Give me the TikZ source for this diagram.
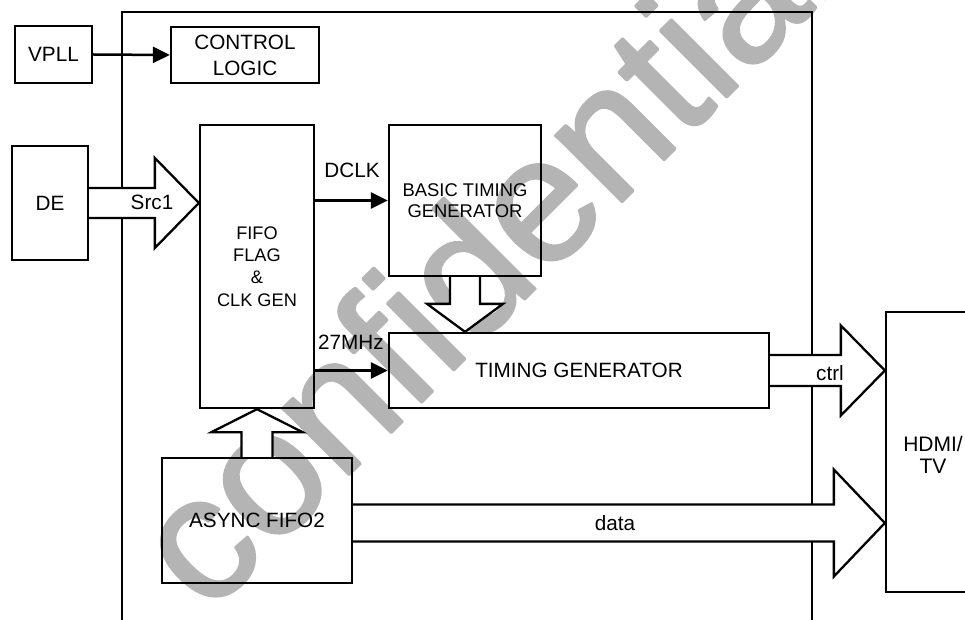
\documentclass[tikz,border=0pt]{standalone}
\usepackage{fontspec}
\setmainfont{Liberation Sans}
\newfontfamily\wmfont[FakeBold=1.5]{Liberation Sans}
\usetikzlibrary{arrows.meta,calc}
\definecolor{wm}{RGB}{180,180,180}
\begin{document}
\begin{tikzpicture}[x=1pt,y=-1pt,
  box/.style={draw,line width=2.3pt,inner sep=0pt,align=center,font=\fontsize{20.7}{25}\selectfont},
  smalltext/.style={font=\fontsize{18.4}{21.5}\selectfont},
  lbl/.style={inner sep=0pt,font=\fontsize{20.7}{25}\selectfont},
  wire/.style={line width=2.5pt,-{Triangle[length=17pt,width=16pt]}},
  hollow/.style={draw,line width=2.3pt,fill=white,line join=miter},
]
\useasboundingbox (0,0) rectangle (965,620);
\begin{scope}
\clip (0,0) rectangle (965,620);
\fill[white] (0,0) rectangle (965,620);
% watermark
\begin{scope}[line join=round]
\node[rotate=45,anchor=base,text=wm,draw=none,inner sep=0pt,font=\wmfont\fontsize{178}{178}\selectfont] (wmark) at (526,298) {confidential};
\end{scope}
% outer frame (open at the bottom)
\draw[line width=2.3pt] (122,640) -- (122,12) -- (812,12) -- (812,640);
% blocks
\node[box,minimum width=77,minimum height=57] (vpll) at (53.5,54.5) {VPLL};
\node[box,minimum width=148,minimum height=56,font=\fontsize{20.7}{26}\selectfont] (ctl) at (245,55) {CONTROL\\LOGIC};
\node[box,minimum width=76,minimum height=114] (de) at (50,203) {DE};
\node[box,smalltext,minimum width=114,minimum height=283,font=\fontsize{18.2}{22.4}\selectfont] (fifo) at (257,266.5) {FIFO\\FLAG\\\&\\CLK GEN};
\node[box,smalltext,minimum width=152,minimum height=151] (btg) at (465,200.5) {BASIC TIMING\\GENERATOR};
\node[box,minimum width=380,minimum height=75] (tg) at (579,370.5) {TIMING GENERATOR};
\node[box,minimum width=190,minimum height=125] (async) at (257,520.5) {ASYNC FIFO2};
\node[box,minimum width=100,minimum height=280] (hdmi) at (936,452) {};
\node[lbl,align=center,font=\fontsize{21}{22}\selectfont] (hdmit) at (933,455) {HDMI/\\TV};
% thin arrows
\draw[wire] (vpll.east) -- (ctl.west);
\draw[wire] (fifo.east |- btg.west) -- (btg.west);
\draw[wire] (fifo.east |- tg.west) -- (tg.west);
% hollow arrow: DE -> FIFO (Src1)
\coordinate (sa) at (de.east);
\coordinate (sb) at (fifo.west |- de.east);
\draw[hollow] ($(sa)+(0,-15)$) -- ($(sb)+(-44,-15)$) -- ($(sb)+(-44,-45)$) -- (sb)
  -- ($(sb)+(-44,45)$) -- ($(sb)+(-44,15)$) -- ($(sa)+(0,15)$);
% hollow arrow: TIMING GENERATOR -> HDMI (ctrl)
\coordinate (ca) at (tg.east);
\coordinate (cb) at (hdmi.west |- tg.east);
\draw[hollow] ($(ca)+(0,-15.5)$) -- ($(cb)+(-44,-15.5)$) -- ($(cb)+(-44,-45)$) -- (cb)
  -- ($(cb)+(-44,45)$) -- ($(cb)+(-44,15.5)$) -- ($(ca)+(0,15.5)$);
% hollow arrow: ASYNC FIFO2 -> HDMI (data)
\coordinate (da) at ($(async.east)+(0,2.5)$);
\coordinate (db) at (hdmi.west |- da);
\draw[hollow] ($(da)+(0,-18.5)$) -- ($(db)+(-51,-18.5)$) -- ($(db)+(-51,-53.5)$) -- (db)
  -- ($(db)+(-51,53.5)$) -- ($(db)+(-51,18.5)$) -- ($(da)+(0,18.5)$);
% hollow arrow: BASIC TIMING -> TIMING GENERATOR
\coordinate (ba) at (btg.south);
\coordinate (bb) at (btg.south |- tg.north);
\draw[hollow] ($(ba)+(-15,0)$) -- ($(bb)+(-15,-28)$) -- ($(bb)+(-38,-28)$) -- (bb)
  -- ($(bb)+(38,-28)$) -- ($(bb)+(15,-28)$) -- ($(ba)+(15,0)$);
% hollow arrow: ASYNC FIFO2 -> FIFO
\coordinate (ua) at (async.north);
\coordinate (ub) at (fifo.south);
\draw[hollow] ($(ua)+(-15.5,0)$) -- ($(ub)+(-15.5,23)$) -- ($(ub)+(-45.5,23)$) -- (ub)
  -- ($(ub)+(45.5,23)$) -- ($(ub)+(15.5,23)$) -- ($(ua)+(15.5,0)$);
% labels
\node[lbl] (src) at (152,202) {Src1};
\node[lbl] (dclk) at (352,170) {DCLK};
\node[lbl] (mhz) at (351,342) {27MHz};
\node[lbl] (ctrl) at (830,373) {ctrl};
\node[lbl] (data) at (615,523) {data};
\end{scope}
\end{tikzpicture}
\end{document}
